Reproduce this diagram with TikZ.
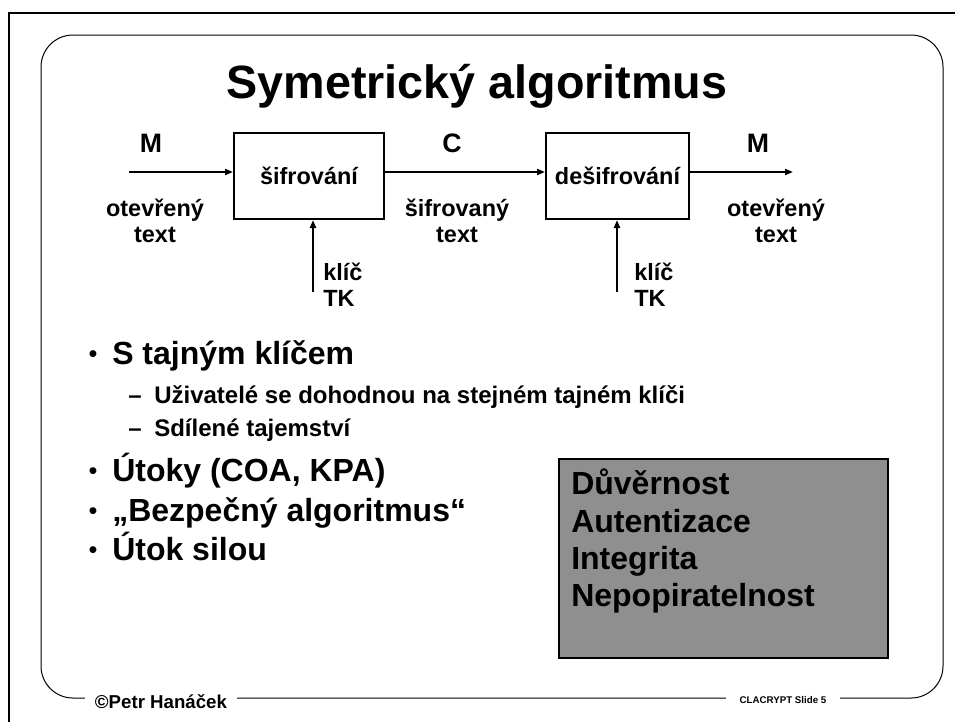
\documentclass[tikz,border=0pt]{standalone}
\usepackage{fontspec}
\setmainfont{Liberation Sans}
\usetikzlibrary{arrows.meta}
\definecolor{boxgrey}{RGB}{143,143,143}

\begin{document}
\begin{tikzpicture}[x=0.75pt, y=-0.75pt,
    block/.style = {draw, line width=1.5pt, minimum height=64.5pt, inner sep=0pt, font=\bfseries\fontsize{17.6}{19.5}\selectfont},
    lbl/.style = {inner sep=0pt, align=center, font=\bfseries\fontsize{17.6}{19.5}\selectfont},
    sig/.style = {anchor=base, inner sep=0pt, font=\bfseries\fontsize{20}{22}\selectfont},
    arr/.style = {line width=1.5pt, -{Triangle[length=6pt,width=4.5pt]}},
    item/.style = {anchor=base west, inner sep=0pt, font=\bfseries\fontsize{24}{28}\selectfont},
    dot/.style = {anchor=base, inner sep=0pt, font=\fontsize{19}{22}\selectfont},
    subitem/.style = {anchor=base west, inner sep=0pt, font=\bfseries\fontsize{18}{20}\selectfont},
    propbox/.style = {draw, fill=boxgrey, line width=1.2pt, minimum width=246.75pt, minimum height=149.25pt},
    foot/.style = {anchor=base, fill=white, inner ysep=2pt}]

\useasboundingbox (0,0) rectangle (955,722);

% frame of the slide
\draw[line width=2pt] (9,722) -- (9,13) -- (955,13);
\draw[line width=0.75pt, rounded corners=24pt] (41,35) rectangle (943,698);

\node[anchor=base, inner sep=0pt, font=\bfseries\fontsize{35}{40}\selectfont] (title) at (477,98) {Symetrický algoritmus};

% the scheme
\node[block, minimum width=112.5pt] (enc) at (309,176) {šifrování};
\node[block, minimum width=107.25pt] (dec) at (617.5,176) {dešifrování};
\coordinate (in) at (129,172);
\coordinate (out) at (793,172);
\coordinate (key1) at (313,292);
\coordinate (key2) at (617,292);
\draw[arr] (in) -- (in -| enc.west);
\draw[arr] (enc.east |- in) -- (dec.west |- in);
\draw[arr] (dec.east |- in) -- (out);
\draw[arr] (key1) -- (key1 |- enc.south);
\draw[arr] (key2) -- (key2 |- dec.south);

\node[sig] (m1) at (151,152) {M};
\node[sig] (c) at (452,152) {C};
\node[sig] (m2) at (758,152) {M};
\node[lbl] (plain1) at (155,221) {otevřený\\text};
\node[lbl] (cipher) at (457,221) {šifrovaný\\text};
\node[lbl] (plain2) at (776,221) {otevřený\\text};
\node[lbl, anchor=west, align=left] (k1) at (323,285) {klíč\\TK};
\node[lbl, anchor=west, align=left] (k2) at (634,285) {klíč\\TK};

% bullets
\node[dot] (d1) at (93,362) {\textbullet};
\node[item] (i1) at (112,364) {S tajným klíčem};
\node[subitem] (s1) at (128,403) {–};
\node[subitem] (t1) at (154,403) {Uživatelé se dohodnou na stejném tajném klíči};
\node[subitem] (s2) at (128,436) {–};
\node[subitem] (t2) at (154,436) {Sdílené tajemství};
\node[dot] (d2) at (93,479) {\textbullet};
\node[item] (i2) at (112,481) {Útoky (COA, KPA)};
\node[dot] (d3) at (93,519) {\textbullet};
\node[item] (i3) at (112,521) {„Bezpečný algoritmus“};
\node[dot] (d4) at (93,558) {\textbullet};
\node[item] (i4) at (112,560) {Útok silou};

% grey box
\node[propbox] (props) at (723.5,558.5) {};
\node[anchor=north west, inner sep=0pt, align=left, font=\bfseries\fontsize{24}{28}\selectfont] (ptext) at (571,469) {Důvěrnost\\Autentizace\\Integrita\\Nepopiratelnost};

% footer
\node[foot, inner xsep=7.5pt, font=\bfseries\fontsize{14}{16}\selectfont] (author) at (161,708) {©Petr Hanáček};
\node[foot, inner xsep=10.5pt, font=\bfseries\fontsize{7.3}{9}\selectfont] (slide) at (783,703.5) {CLACRYPT Slide 5};
\end{tikzpicture}
\end{document}
